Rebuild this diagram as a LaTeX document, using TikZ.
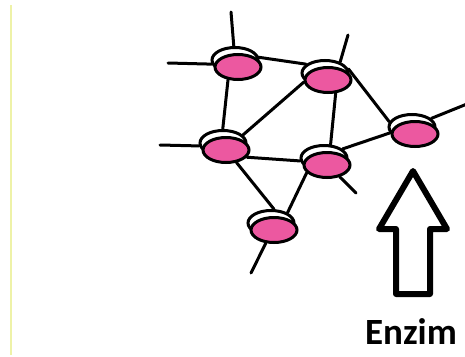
\documentclass[tikz,border=0pt]{standalone}
\usepackage{fontspec}
\setmainfont{Carlito}
\usetikzlibrary{shapes.geometric,backgrounds}
\definecolor{discpink}{RGB}{236,88,160}
\definecolor{paleyellow}{RGB}{238,242,168}
\begin{document}
\begin{tikzpicture}[x=1pt,y=-1pt,
    link/.style={line width=3pt,line cap=round},
    topface/.style={ellipse,draw,fill=white,line width=3pt,inner sep=0pt,
      minimum width=46pt,minimum height=25pt},
    face/.style={topface,fill=discpink}]
  \useasboundingbox (0,0) rectangle (465,356);
  \draw[paleyellow,line width=2pt] (11,5) -- (11,355);

  % discs: white top face, pink face in front
  \foreach \n/\x/\y in {A/238/67,B/328/80,C/415/134,D/226/150,E/327/165,F/274/230}{
    \node[topface] (t\n) at (\x-3,\y-7) {};
    \node[face] (\n) at (\x,\y) {};
  }

  % loose ends
  \coordinate (endAu) at (231,12);
  \coordinate (endAl) at (168,63);
  \coordinate (endB) at (348,35);
  \coordinate (endC) at (467,104);
  \coordinate (endD) at (160,145);
  \coordinate (endE) at (356,193);
  \coordinate (endF) at (251,273);

  \begin{scope}[on background layer]
    \draw[link] (A.32) -- (tB.155);
    \draw[link] (A.232) -- (tD.91);
    \draw[link] (B.185) -- (tD.22);
    \draw[link] (B.300) -- (tE.64);
    \draw[link] (tB.10) -- (tC.167);
    \draw[link] (tC.195) -- (tE.26);
    \draw[link] (D.341) -- (tE.187);
    \draw[link] (D.310) -- (tF.78);
    \draw[link] (E.201) -- (tF.32);
    \draw[link] (tA.95) -- (endAu);
    \draw[link] (tA.190) -- (endAl);
    \draw[link] (tB.36) -- (endB);
    \draw[link] (tC.24) -- (endC);
    \draw[link] (tD.187) -- (endD);
    \draw[link] (E.317) -- (endE);
    \draw[link] (F.238) -- (endF);
  \end{scope}

  % hollow arrow
  \draw[line width=6pt,line join=round] (413,171) -- (447,229) -- (430,229)
    -- (430,294) -- (396,294) -- (396,229) -- (379,229) -- cycle;
  \node[font=\bfseries\fontsize{37}{40}\selectfont,anchor=base] (enzim) at (411,344) {Enzim};
\end{tikzpicture}
\end{document}
